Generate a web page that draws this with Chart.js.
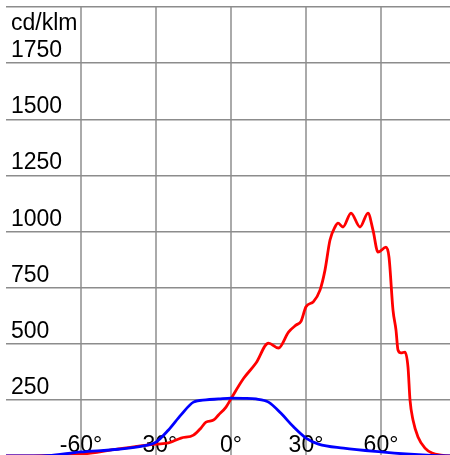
<!DOCTYPE html>
<html lang="en">
<head>
  <meta charset="UTF-8" />
  <title>cd/klm</title>
  <script src="https://cdn.jsdelivr.net/npm/chart.js"></script>
  <style>
    body {
      margin: 0;
      background: #fff;
      overflow: hidden;
    }
    #wrap {
      width: 450px;
      height: 455px;
      overflow: hidden;
    }
  </style>
</head>
<body>
  <div id="wrap">
    <canvas id="lightChart" width="460" height="460"></canvas>
  </div>
  <script>
    // angle ticks along the bottom, value ticks on the left
    const angleTicks = [-60, -30, 0, 30, 60];
    const valueTicks = [250, 500, 750, 1000, 1250, 1500, 1750];
    const unitLabel = 'cd/klm';

    const redAngles = [-90, -75, -60, -45, -30, -25, -20, -15, -12, -10, -7, -5, -2, 0, 5, 10, 15, 19, 23, 26, 28, 30, 33, 35.6, 37.6, 39.6, 41.6, 42.8, 44.8, 48, 51.6, 54.8, 56.8, 58.8, 62, 63.2, 64.8, 66, 66.8, 68, 69.6, 70.8, 71.6, 72.8, 74.8, 77.6, 80.4, 84, 90];
    const redValues = [0, 2, 8, 32, 53, 58, 80, 93, 125, 151, 160, 183, 218, 255, 345, 414, 503, 481, 552, 583, 600, 665, 688, 739, 828, 962, 1020, 1037, 1020, 1082, 1020, 1082, 1006, 908, 930, 886, 650, 561, 472, 459, 463, 396, 250, 160, 85, 35, 13, 4, 0];

    const blueAngles = [-90, -76, -60, -45, -35, -30, -25, -20, -15, -10, -5, 0, 5, 10, 15, 20, 25, 30, 35, 45, 60, 70, 80, 90];
    const blueValues = [0, 0, 18, 30, 45, 62, 116, 183, 240, 250, 254, 258, 257, 254, 240, 190, 130, 80, 53, 35, 18, 9, 3, 0];

    const toPoints = (xs, ys) => xs.map((x, i) => ({ x: x, y: ys[i] }));

    // tick labels are drawn inside the plot, under the curves
    const insideLabels = {
      id: 'insideLabels',
      beforeDatasetsDraw(chart) {
        const ctx = chart.ctx;
        const xs = chart.scales.x;
        const ys = chart.scales.y;
        ctx.save();
        ctx.fillStyle = '#000';
        ctx.font = '23px "Liberation Sans", Arial, sans-serif';
        ctx.textBaseline = 'alphabetic';
        ctx.textAlign = 'left';
        valueTicks.forEach(v => {
          ctx.fillText(String(v), 11, ys.getPixelForValue(v) - 6);
        });
        ctx.fillText(unitLabel, 11, ys.getPixelForValue(2000) + 23);
        ctx.textAlign = 'center';
        angleTicks.forEach(a => {
          ctx.fillText(a + '°', xs.getPixelForValue(a), 452);
        });
        ctx.restore();
      }
    };

    new Chart(document.getElementById('lightChart'), {
      type: 'line',
      data: {
        datasets: [
          {
            data: toPoints(blueAngles, blueValues),
            borderColor: '#0000ff',
            borderWidth: 2.8,
            pointRadius: 0,
            cubicInterpolationMode: 'monotone',
            fill: false
          },
          {
            data: toPoints(redAngles, redValues),
            borderColor: '#ff0000',
            borderWidth: 2.8,
            pointRadius: 0,
            cubicInterpolationMode: 'monotone',
            fill: false
          }
        ]
      },
      options: {
        responsive: false,
        animation: false,
        layout: { padding: { left: 6, top: 7, right: 4, bottom: 4 } },
        plugins: { legend: { display: false }, tooltip: { enabled: false } },
        scales: {
          x: {
            type: 'linear',
            min: -90,
            max: 90,
            ticks: { display: false, stepSize: 30 },
            border: { display: false },
            grid: {
              drawTicks: false,
              lineWidth: 2,
              color: c => (Math.abs(c.tick.value) === 90 ? 'rgba(0,0,0,0)' : '#aaaaaa')
            },
            afterFit: s => { s.height = 0; }
          },
          y: {
            min: 0,
            max: 2000,
            ticks: { display: false, stepSize: 250 },
            border: { display: false },
            grid: {
              drawTicks: false,
              lineWidth: 1.5,
              color: c => (c.tick.value === 0 ? 'rgba(0,0,0,0)' : '#8c8c8c')
            },
            afterFit: s => { s.width = 0; }
          }
        }
      },
      plugins: [insideLabels]
    });
  </script>
</body>
</html>
